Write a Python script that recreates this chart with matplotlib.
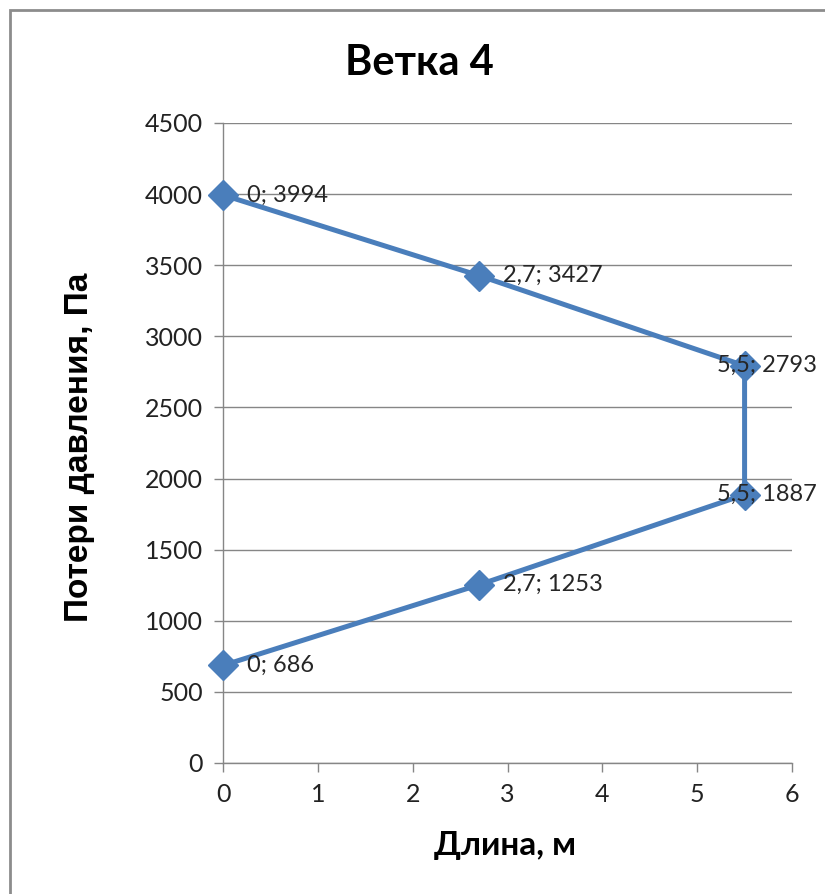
import matplotlib.pyplot as plt
from matplotlib.patches import Rectangle

# branch 4: length vs pressure loss
length_m = [0, 2.7, 5.5, 5.5, 2.7, 0]
loss_pa = [3994, 3427, 2793, 1887, 1253, 686]

x_ticks = [0, 1, 2, 3, 4, 5, 6]
y_ticks = [0, 500, 1000, 1500, 2000, 2500, 3000, 3500, 4000, 4500]

title = 'Ветка 4'
x_label = 'Длина, м'
y_label = 'Потери давления, Па'

W, H = 825, 894
fig = plt.figure(figsize=(W / 100, H / 100), dpi=100)
ax = fig.add_axes([223 / W, 1 - 763 / H, (792 - 223) / W, (763 - 123) / H])

grey = '#868686'
blue = '#4A7EBB'

ax.plot(length_m, loss_pa, color=blue, lw=3.6, marker='D', markersize=15,
        markerfacecolor=blue, markeredgecolor=blue, zorder=3, clip_on=False)

def fmt(v):
    s = ('%g' % v).replace('.', ',')
    return s

for x, y in zip(length_m, loss_pa):
    txt = fmt(x) + '; ' + fmt(y)
    if x == max(length_m):
        dx = -19.5  # no room on the right, pull label back over the point
    else:
        dx = 17.5
    ax.annotate(txt, (x, y), xytext=(dx, 0), textcoords='offset points',
                ha='left', va='center', fontsize=17, family='Lato',
                color='#262626', zorder=4, annotation_clip=False)

ax.set_xlim(0, 6)
ax.set_ylim(0, 4500)
ax.set_xticks(x_ticks)
ax.set_yticks(y_ticks)
ax.yaxis.grid(True, color=grey, lw=1)
ax.set_axisbelow(True)

for side in ['top', 'right']:
    ax.spines[side].set_visible(False)
for side in ['left', 'bottom']:
    ax.spines[side].set_color(grey)
    ax.spines[side].set_linewidth(1)

ax.tick_params(axis='both', direction='out', length=6.5, width=1, color=grey,
               labelsize=18, labelcolor='#222222')
ax.tick_params(axis='x', pad=8)
ax.tick_params(axis='y', pad=8)
for lab in ax.get_xticklabels() + ax.get_yticklabels():
    lab.set_family('Lato')

fig.text(419 / W, 1 - 63 / H, title, ha='center', va='center', fontsize=30,
         fontweight='bold', family='Lato', color='black')
fig.text(505 / W, 1 - 846 / H, x_label, ha='center', va='center', fontsize=24,
         fontweight='bold', family='Lato', color='black')
fig.text(80 / W, 1 - 447 / H, y_label, ha='center', va='center', fontsize=24,
         fontweight='bold', family='Liberation Sans', color='black',
         rotation=90)

# chart area frame
fig.patches.append(Rectangle((10 / W, -0.1), 1.2, 1.1 - 10 / H,
                             transform=fig.transFigure, fill=False,
                             edgecolor='#8c8c8c', lw=2))

fig.savefig('out.png', dpi=100)
